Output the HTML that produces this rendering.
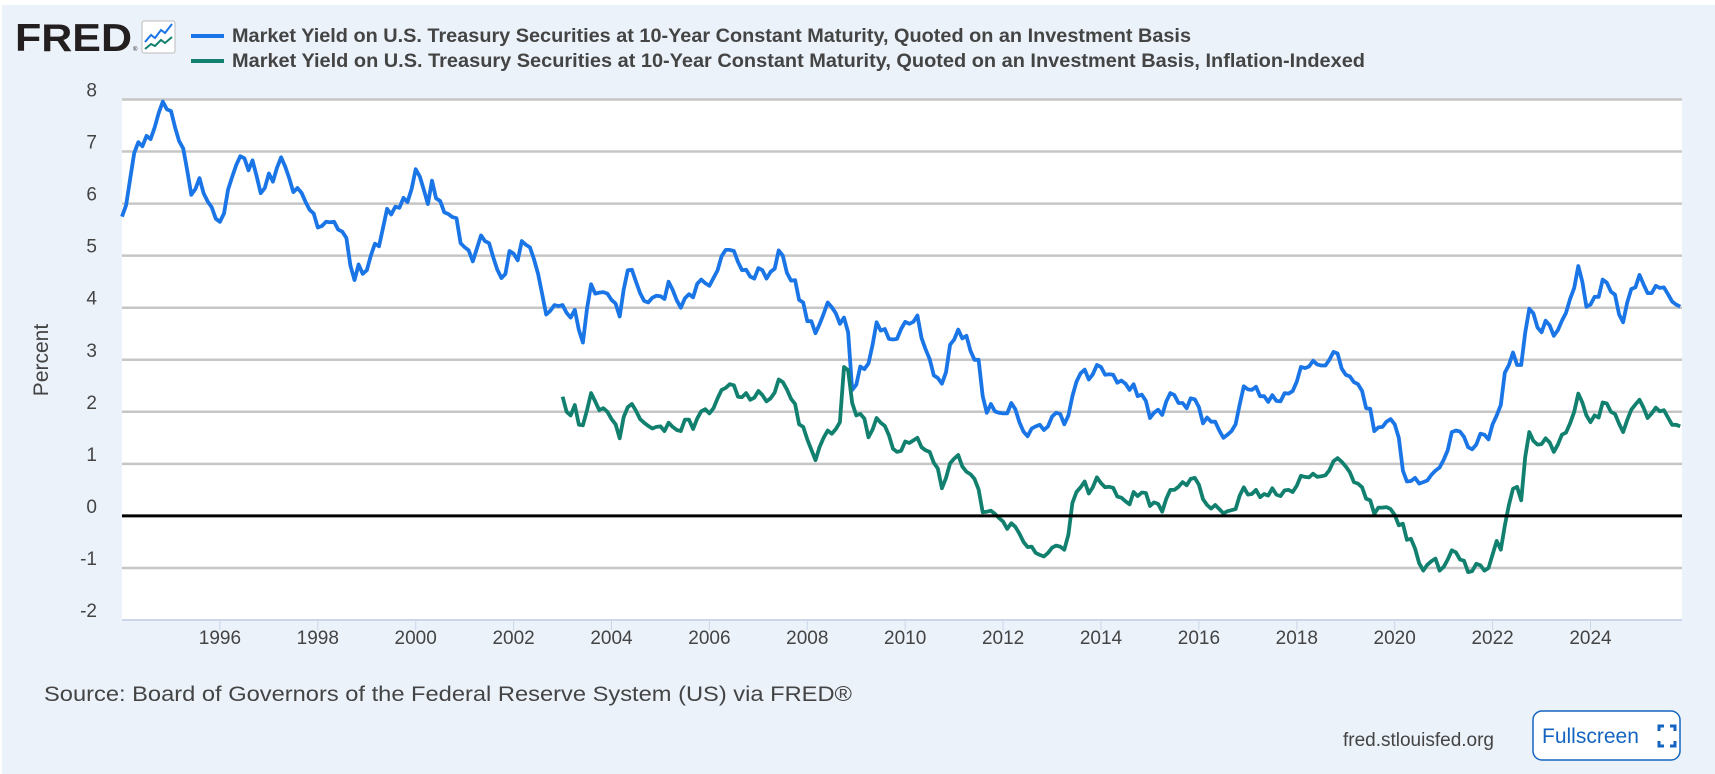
<!DOCTYPE html>
<html><head><meta charset="utf-8"><style>
html,body{margin:0;padding:0;background:#fff;}
body{width:1715px;height:774px;overflow:hidden;font-family:"Liberation Sans",sans-serif;}
#wrap{position:absolute;left:2px;top:5px;width:1713px;height:769px;background:#ebf2fa;}
</style></head><body>
<div id="wrap"></div>
<svg id="chart" width="1715" height="774" style="position:absolute;left:0;top:0">
  <rect x="122" y="99" width="1560" height="521" fill="#fff"/>
  <g id="grid"></g><g id="xaxis"></g><g id="series"></g>
  <text x="15" y="51" font-family="Liberation Sans" font-weight="bold" font-size="39" fill="#231f20" textLength="117" lengthAdjust="spacingAndGlyphs">FRED</text>
  <text x="133" y="51" font-size="6" fill="#231f20">®</text>
  <g>
    <rect x="142" y="21" width="33" height="32" fill="#fff" stroke="#bbb" rx="2"/>
    <polyline points="145,42 151,35 155,38 161,30 165,33 172,24" fill="none" stroke="#1a75e6" stroke-width="2"/>
    <polyline points="145,49 151,44 155,46 161,40 165,43 172,37" fill="none" stroke="#12806f" stroke-width="2"/>
  </g>
  <line x1="191" y1="36" x2="224" y2="36" stroke="#1a75e6" stroke-width="4"/>
  <text x="232" y="42" font-size="19" font-weight="bold" fill="#444" textLength="959" lengthAdjust="spacingAndGlyphs">Market Yield on U.S. Treasury Securities at 10-Year Constant Maturity, Quoted on an Investment Basis</text>
  <line x1="191" y1="61" x2="224" y2="61" stroke="#12806f" stroke-width="4"/>
  <text x="232" y="67" font-size="19" font-weight="bold" fill="#444" textLength="1133" lengthAdjust="spacingAndGlyphs">Market Yield on U.S. Treasury Securities at 10-Year Constant Maturity, Quoted on an Investment Basis, Inflation-Indexed</text>
  <text transform="translate(48,360) rotate(-90)" text-anchor="middle" font-size="21" fill="#444">Percent</text>
  <text x="44" y="701" font-size="21" fill="#444" textLength="808" lengthAdjust="spacingAndGlyphs">Source: Board of Governors of the Federal Reserve System (US) via FRED®</text>
  <text x="1494" y="746" text-anchor="end" font-size="19" fill="#444">fred.stlouisfed.org</text>
  <g>
    <rect x="1533" y="711" width="147" height="49" rx="9" fill="#fff" stroke="#1565c0" stroke-width="1.5"/>
    <text x="1542" y="743" font-size="21" fill="#1565c0">Fullscreen</text>
    <path d="M1659 731v-5h5M1670 726h5v5M1675 741v5h-5M1664 746h-5v-5" fill="none" stroke="#1565c0" stroke-width="3"/>
  </g>
</svg>
<script>
const yTicks=[8,7,6,5,4,3,2,1,0,-1,-2];
const xTickYears=[1996,1998,2000,2002,2004,2006,2008,2010,2012,2014,2016,2018,2020,2022,2024];
const nominalStart=1994;
const nominal=[5.75,5.97,6.48,6.97,7.18,7.10,7.30,7.24,7.46,7.74,7.96,7.81,
7.78,7.47,7.20,7.06,6.63,6.17,6.28,6.49,6.20,6.04,5.93,5.71,
5.65,5.81,6.27,6.51,6.74,6.91,6.87,6.64,6.83,6.53,6.20,6.30,
6.58,6.42,6.69,6.89,6.71,6.49,6.22,6.30,6.21,6.03,5.88,5.81,
5.54,5.57,5.65,5.64,5.65,5.50,5.46,5.34,4.81,4.53,4.83,4.65,
4.72,5.00,5.23,5.18,5.54,5.90,5.79,5.94,5.92,6.11,6.03,6.28,
6.66,6.52,6.26,5.99,6.44,6.10,6.05,5.83,5.80,5.74,5.72,5.24,
5.16,5.10,4.89,5.14,5.39,5.28,5.24,4.97,4.73,4.57,4.65,5.09,
5.04,4.91,5.28,5.21,5.16,4.93,4.65,4.26,3.87,3.94,4.05,4.03,
4.05,3.90,3.81,3.96,3.57,3.33,3.98,4.45,4.27,4.29,4.30,4.27,
4.15,4.08,3.83,4.35,4.72,4.73,4.50,4.28,4.13,4.10,4.19,4.23,
4.22,4.17,4.50,4.34,4.14,4.00,4.18,4.26,4.20,4.46,4.54,4.47,
4.42,4.57,4.72,4.99,5.11,5.11,5.09,4.88,4.72,4.73,4.60,4.56,
4.76,4.72,4.56,4.69,4.75,5.10,5.00,4.67,4.52,4.53,4.15,4.10,
3.74,3.74,3.51,3.68,3.88,4.10,4.01,3.89,3.69,3.81,3.53,2.42,
2.52,2.87,2.82,2.93,3.29,3.72,3.56,3.59,3.40,3.39,3.40,3.59,
3.73,3.69,3.73,3.85,3.42,3.20,3.01,2.70,2.65,2.54,2.76,3.29,
3.39,3.58,3.41,3.46,3.17,3.00,3.00,2.30,1.98,2.15,2.01,1.98,
1.97,1.97,2.17,2.05,1.80,1.62,1.53,1.68,1.72,1.75,1.65,1.72,
1.91,1.98,1.96,1.76,1.93,2.30,2.58,2.74,2.81,2.62,2.72,2.90,
2.86,2.71,2.72,2.71,2.56,2.60,2.54,2.42,2.53,2.30,2.33,2.21,
1.88,1.98,2.04,1.94,2.20,2.36,2.32,2.17,2.17,2.07,2.26,2.24,
2.09,1.78,1.89,1.81,1.81,1.64,1.50,1.56,1.63,1.76,2.14,2.49,
2.43,2.42,2.48,2.30,2.30,2.19,2.32,2.21,2.20,2.36,2.35,2.40,
2.58,2.86,2.84,2.87,2.98,2.91,2.89,2.89,3.00,3.15,3.12,2.83,
2.71,2.68,2.57,2.53,2.40,2.07,2.06,1.63,1.70,1.71,1.81,1.86,
1.76,1.50,0.87,0.66,0.67,0.73,0.62,0.65,0.68,0.79,0.87,0.93,
1.08,1.26,1.61,1.64,1.62,1.52,1.32,1.28,1.37,1.58,1.56,1.47,
1.76,1.93,2.13,2.75,2.90,3.14,2.90,2.90,3.52,3.98,3.89,3.62,
3.53,3.75,3.66,3.46,3.57,3.75,3.90,4.17,4.38,4.80,4.50,4.02,
4.06,4.21,4.21,4.54,4.48,4.31,4.25,3.87,3.72,4.10,4.36,4.39,
4.63,4.45,4.28,4.28,4.42,4.38,4.39,4.26,4.12,4.06,4.02];
const tipsStart=2003;
const tips=[2.29,2.00,1.93,2.13,1.75,1.74,2.03,2.36,2.20,2.03,2.07,2.00,
1.86,1.76,1.49,1.90,2.09,2.15,2.02,1.86,1.79,1.73,1.68,1.71,
1.72,1.63,1.79,1.71,1.65,1.63,1.85,1.85,1.67,1.87,2.01,2.05,
1.97,2.07,2.26,2.42,2.46,2.53,2.51,2.29,2.28,2.36,2.23,2.27,
2.40,2.32,2.20,2.26,2.37,2.62,2.57,2.43,2.25,2.15,1.76,1.71,
1.47,1.27,1.07,1.32,1.50,1.64,1.58,1.67,1.80,2.86,2.80,2.17,
1.93,1.96,1.87,1.51,1.66,1.88,1.79,1.73,1.55,1.29,1.23,1.25,
1.43,1.40,1.45,1.50,1.32,1.26,1.23,1.02,0.91,0.53,0.73,1.01,
1.10,1.17,0.95,0.85,0.80,0.71,0.51,0.07,0.08,0.10,0.04,-0.04,
-0.11,-0.25,-0.14,-0.21,-0.34,-0.50,-0.60,-0.59,-0.71,-0.75,-0.78,-0.71,
-0.61,-0.57,-0.59,-0.65,-0.36,0.25,0.46,0.55,0.66,0.43,0.55,0.74,
0.63,0.55,0.56,0.54,0.37,0.35,0.28,0.22,0.46,0.38,0.45,0.44,
0.19,0.26,0.23,0.08,0.33,0.50,0.50,0.56,0.65,0.59,0.71,0.73,
0.60,0.32,0.21,0.14,0.21,0.13,0.05,0.09,0.11,0.13,0.39,0.55,
0.41,0.42,0.50,0.36,0.42,0.39,0.53,0.41,0.38,0.49,0.50,0.46,
0.58,0.77,0.75,0.74,0.81,0.75,0.76,0.78,0.88,1.05,1.11,1.04,
0.95,0.84,0.65,0.62,0.55,0.33,0.30,0.04,0.16,0.16,0.17,0.13,
0.02,-0.18,-0.15,-0.46,-0.44,-0.63,-0.91,-1.05,-0.94,-0.87,-0.82,-1.05,
-0.98,-0.84,-0.66,-0.70,-0.84,-0.86,-1.08,-1.06,-0.92,-0.95,-1.05,-1.00,
-0.74,-0.48,-0.65,-0.19,0.21,0.52,0.56,0.30,1.13,1.61,1.44,1.37,
1.38,1.49,1.41,1.23,1.37,1.56,1.60,1.78,2.00,2.35,2.18,1.93,
1.80,1.93,1.89,2.18,2.16,2.00,1.96,1.77,1.61,1.84,2.04,2.14,
2.23,2.08,1.88,1.97,2.08,2.01,2.03,1.89,1.75,1.75,1.72];
const NS='http://www.w3.org/2000/svg';
const X0=122,X1=1682,Y0=99.5,Y1=620;
const T0=1994.0,T1=1994.0+(X1-X0)/48.95;
function xs(t){return X0+(t-T0)*(X1-X0)/(T1-T0);}
function ys(v){return Y0+(8-v)*(Y1-Y0)/10;}
function mk(tag,attrs,parent){const e=document.createElementNS(NS,tag);for(const k in attrs)e.setAttribute(k,attrs[k]);parent.appendChild(e);return e;}
const grid=document.getElementById('grid'),xa=document.getElementById('xaxis'),ser=document.getElementById('series');
yTicks.forEach(v=>{
  if(v!==0&&v!==-2){const l=mk('line',{x1:X0,x2:X1,y1:ys(v),y2:ys(v),stroke:'#c6c6c6','stroke-width':2.5},grid);
  
  }
  const t=mk('text',{x:97,y:ys(v)-3,'text-anchor':'end','font-size':19,fill:'#444','font-family':'Liberation Sans'},grid);
  t.textContent=v;
  
  
});
const base=mk('line',{x1:X0,x2:X1,y1:Y1,y2:Y1,stroke:'#ccd6eb','stroke-width':2},xa);


xTickYears.forEach(yr=>{
  const x=xs(yr);
  const tk=mk('line',{x1:x,x2:x,y1:Y1,y2:Y1+10,stroke:'#ccd6eb','stroke-width':1},xa);
  
  
  const t=mk('text',{x:x,y:644,'text-anchor':'middle','font-size':19,fill:'#444','font-family':'Liberation Sans'},xa);
  t.textContent=yr;
  
  
});
function pts(arr,start){return arr.map((v,i)=>xs(start+i/12).toFixed(1)+','+ys(v).toFixed(1)).join(' ');}
const p1=mk('polyline',{points:pts(nominal,nominalStart),fill:'none',stroke:'#1a75e6','stroke-width':3.8,'stroke-linejoin':'round'},ser);


const p2=mk('polyline',{points:pts(tips,tipsStart),fill:'none',stroke:'#12806f','stroke-width':3.8,'stroke-linejoin':'round'},ser);


const z=mk('line',{x1:X0,x2:X1,y1:ys(0),y2:ys(0),stroke:'#000','stroke-width':3},ser);


</script>
</body></html>
